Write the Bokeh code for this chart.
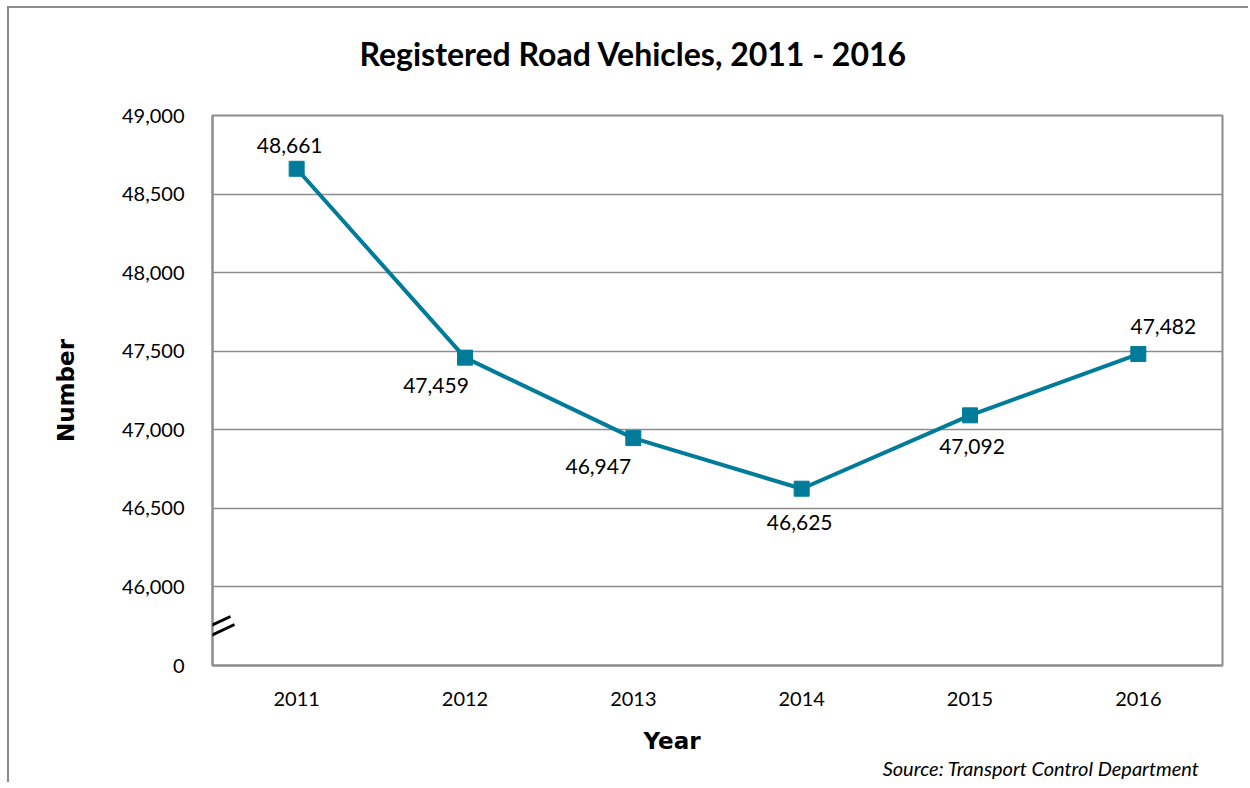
from bokeh.plotting import figure
from bokeh.models import (ColumnDataSource, LabelSet, Arrow, FixedTicker,
                          Range1d, FactorRange, Title)
from bokeh.core.properties import value
from bokeh.embed import file_html
from bokeh.resources import INLINE

# ---- data ----
years = ["2011", "2012", "2013", "2014", "2015", "2016"]
vehicles = [48661, 47459, 46947, 46625, 47092, 47482]
vehicle_labels = ["48,661", "47,459", "46,947", "46,625", "47,092", "47,482"]
y_ticks = [45500, 46000, 46500, 47000, 47500, 48000, 48500, 49000]
y_tick_labels = ["0", "46,000", "46,500", "47,000", "47,500", "48,000", "48,500", "49,000"]

# ---- style / layout ----
FONT = "Lato"
BOLD_FONT = "DejaVu Sans"
LINE_COLOR = "#007B9A"
GRID_COLOR = "#8C8C8C"
label_dx = [-7, -29, -35, -2, 2, 25]
label_dy = [23, -28, -28, -34, -31, 28]

src = ColumnDataSource(dict(year=years, v=vehicles, lab=vehicle_labels,
                            dx=label_dx, dy=label_dy))

OX, OY = 9, 8  # page offset of the canvas
W, H = 1250 - OX, 784 - OY
p = figure(width=W, height=H, x_range=FactorRange(*years, range_padding=0),
           y_range=Range1d(45500, 49000), output_backend="svg",
           toolbar_location=None,
           min_border_left=212 - OX, min_border_right=W - (1222 - OX),
           min_border_top=115 - OY, min_border_bottom=H - (665 - OY))
p.styles = {"margin-left": "%dpx" % OX, "margin-top": "%dpx" % OY,
            "box-shadow": "-2px -2px 0px 0px #8C8C8C"}

p.outline_line_color = GRID_COLOR
p.outline_line_width = 2
p.background_fill_color = "white"
p.border_fill_color = "white"

p.xgrid.grid_line_color = None
p.ygrid.grid_line_color = GRID_COLOR
p.ygrid.grid_line_width = 1.5
p.ygrid.ticker = FixedTicker(ticks=y_ticks)

for ax in (p.xaxis[0], p.yaxis[0]):
    ax.axis_line_color = GRID_COLOR
    ax.axis_line_width = 2
    ax.major_tick_line_color = None
    ax.minor_tick_line_color = None
    ax.major_label_text_font = FONT
    ax.major_label_text_font_size = "20px"
    ax.major_label_text_color = "black"
    ax.axis_label_text_font = BOLD_FONT
    ax.axis_label_text_font_size = "23px"
    ax.axis_label_text_font_style = "bold"
    ax.axis_label_text_color = "black"

p.yaxis[0].ticker = FixedTicker(ticks=y_ticks)
p.yaxis[0].major_label_overrides = {t: l for t, l in zip(y_ticks, y_tick_labels)}
p.yaxis[0].major_label_standoff = 22
p.yaxis[0].axis_label = "Number"
p.yaxis[0].axis_label_standoff = 40
p.xaxis[0].major_label_standoff = 20

p.line("year", "v", source=src, line_color=LINE_COLOR, line_width=4)
p.scatter("year", "v", source=src, marker="square", size=15,
          fill_color=LINE_COLOR, line_color=LINE_COLOR)

p.add_layout(LabelSet(x="year", y="v", text="lab", source=src,
                      x_offset="dx", y_offset="dy",
                      text_font=value(FONT), text_font_size="21px", text_color="black",
                      text_align="center", text_baseline="middle"))

# title (with a thin spacer between it and the frame)
p.add_layout(Title(text="\u00a0", text_font_size="2px", standoff=39), "above")
p.add_layout(Title(text="Registered Road Vehicles,  2011 - 2016", align="left", offset=147,
                   text_font=FONT, text_font_size="32px", text_font_style="bold",
                   text_color="black", standoff=0), "above")

# x-axis title and source note (with a thin spacer below the tick labels)
p.add_layout(Title(text="\u00a0", text_font_size="2px", standoff=13), "below")
p.add_layout(Title(text="Year", align="left", offset=431,
                   text_font=BOLD_FONT, text_font_size="23px", text_font_style="bold",
                   text_color="black", standoff=0, text_line_height=1.0), "below")
p.add_layout(Title(text="Source: Transport Control Department", align="right", offset=23,
                   text_font=FONT, text_font_size="20px", text_font_style="italic",
                   text_color="black", standoff=0, text_line_height=1.0), "below")

# axis break marks
for (x0, y0, x1, y1) in [(198, 631, 230, 616), (202, 639, 234, 624)]:
    p.add_layout(Arrow(end=None, x_start=x0 - OX, y_start=y0 - OY,
                       x_end=x1 - OX, y_end=y1 - OY,
                       start_units="canvas", end_units="canvas",
                       line_color="black", line_width=3))

open("out.html", "w").write(file_html(p, INLINE))
